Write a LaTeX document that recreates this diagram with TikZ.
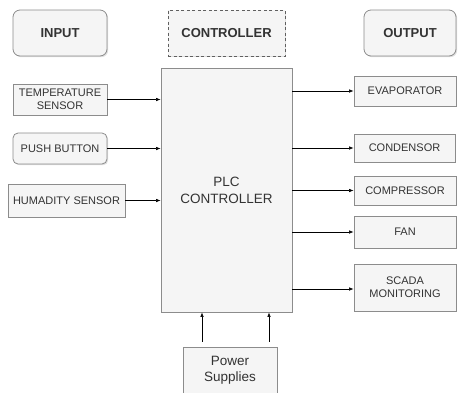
\documentclass[tikz,border=0pt]{standalone}
\usepackage{fontspec}
\setmainfont{Liberation Sans}
\usetikzlibrary{arrows.meta,positioning,shadows}

\definecolor{boxfill}{HTML}{F5F5F5}
\definecolor{boxline}{HTML}{8C8C8C}
\definecolor{txt}{HTML}{333333}

\tikzset{
  blk/.style={draw=boxline, fill=boxfill, text=txt, line width=0.8pt,
    drop shadow={shadow xshift=1.2pt, shadow yshift=-1.2pt, opacity=0.25},
    align=center, inner sep=1pt, font=\fontsize{11}{13}\selectfont},
  head/.style={blk, rounded corners=7pt, font=\fontsize{13}{15}\selectfont\bfseries},
  sig/.style={-{Latex[length=4.5pt,width=3.5pt]}, line width=0.6pt}
}

\begin{document}
\begin{tikzpicture}[x=1pt,y=-1pt]
\useasboundingbox (0,0) rectangle (458,392);
% headings
\node[head, minimum width=94pt, minimum height=46pt] (input) at (60,33) {INPUT};
\node[head, rounded corners=0pt, draw=gray!75!black, dash pattern=on 3pt off 2.5pt, minimum width=117pt, minimum height=46pt] (ctrl) at (226.5,33) {CONTROLLER};
\node[head, minimum width=92pt, minimum height=46pt] (output) at (410,33) {OUTPUT};
% controller block
\node[blk, minimum width=131pt, minimum height=244pt, font=\fontsize{13.5}{17}\selectfont] (plc) at (226.5,190) {PLC\\CONTROLLER};
% inputs
\node[blk, minimum width=94pt, minimum height=31pt] (temp) at (60,99.5) {TEMPERATURE\\SENSOR};
\node[blk, rounded corners=5pt, minimum width=94pt, minimum height=31pt] (push) at (60,148.5) {PUSH BUTTON};
\node[blk, minimum width=117pt, minimum height=33pt] (hum) at (66.5,200.5) {HUMADITY SENSOR};
% outputs
\node[blk, minimum width=102pt, minimum height=30pt] (evap) at (405,91) {EVAPORATOR};
\node[blk, minimum width=101pt, minimum height=28pt] (cond) at (404.5,148) {CONDENSOR};
\node[blk, minimum width=102pt, minimum height=29pt] (comp) at (405,190.5) {COMPRESSOR};
\node[blk, minimum width=102pt, minimum height=32pt] (fan) at (405,232) {FAN};
\node[blk, minimum width=102pt, minimum height=47pt] (scada) at (405,287.5) {SCADA\\MONITORING};
% supply
\node[blk, minimum width=94pt, minimum height=46pt, font=\fontsize{13.5}{16}\selectfont] (power) at (230,370) {Power\\Supplies};
% connectors
\draw[sig] (temp.east) -- (temp.east -| plc.west);
\draw[sig] (push.east) -- (push.east -| plc.west);
\draw[sig] (hum.east) -- (hum.east -| plc.west);
\draw[sig] (evap.west -| plc.east) -- (evap.west);
\draw[sig] (cond.west -| plc.east) -- (cond.west);
\draw[sig] (comp.west -| plc.east) -- (comp.west);
\draw[sig] (fan.west -| plc.east) -- (fan.west);
\draw[sig] ([yshift=-1.5pt]scada.west -| plc.east) -- ([yshift=-1.5pt]scada.west);
\draw[sig, shorten <=5pt] ([xshift=-28pt]power.north) -- ([xshift=-28pt]power.north |- plc.south);
\draw[sig, shorten <=5pt] ([xshift=39pt]power.north) -- ([xshift=39pt]power.north |- plc.south);
\end{tikzpicture}
\end{document}
